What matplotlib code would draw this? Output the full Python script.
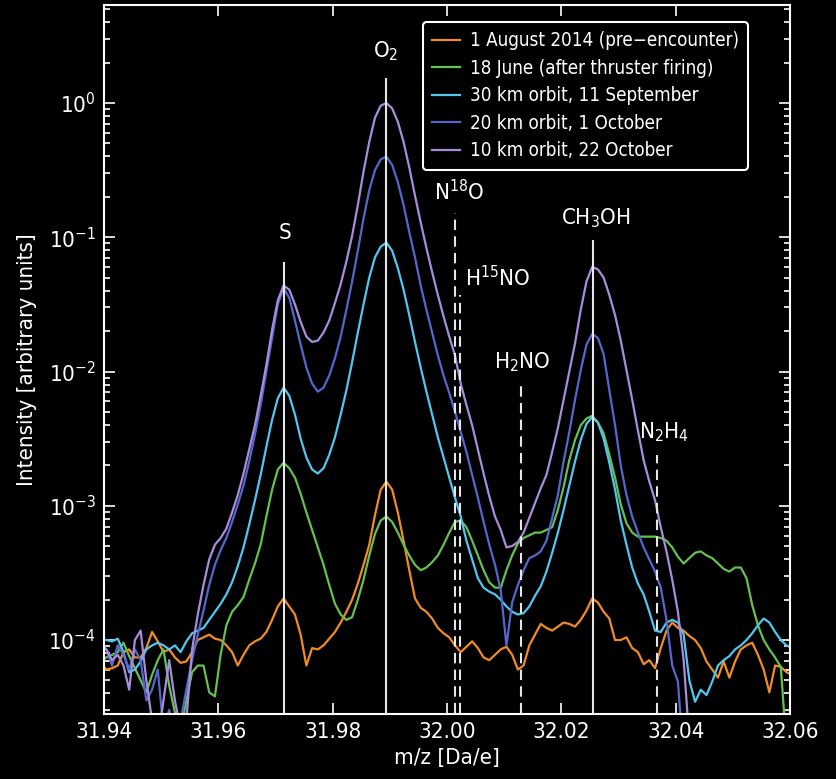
import numpy as np
import matplotlib
matplotlib.use("Agg")
import matplotlib.pyplot as plt
from matplotlib.ticker import LogLocator, FixedLocator, NullFormatter, FormatStrFormatter

plt.rcParams['font.family'] = ['DejaVu Sans']
plt.rcParams['font.stretch'] = 'condensed'
plt.rcParams['mathtext.default'] = 'regular'

# m/z sampling grid (Da/e)
mz = np.round(31.9394 + 0.001 * np.arange(122), 4)

series_labels = ["1 August 2014 (pre\u2212encounter)",
                 "18 June (after thruster firing)",
                 "30 km orbit, 11 September",
                 "20 km orbit, 1 October",
                 "10 km orbit, 22 October"]
series_colors = ["#f08c28", "#66c050", "#52c6f0", "#5468cc", "#a98cdc"]

# log10 of intensity (arbitrary units)
aug_log = [-4.17, -4.22, -4.21, -4.19, -4.09, -4.07, -4.13, -4.13, -4.06, -3.94,
           -4.01, -4.09, -4.07, -4.13, -4.17, -4.16, -4.09, -4.00, -3.98, -3.96,
           -3.99, -4.00, -4.04, -4.09, -4.19, -4.11, -4.04, -4.01, -3.99, -3.94,
           -3.85, -3.75, -3.69, -3.75, -3.81, -3.96, -4.19, -4.06, -4.07, -4.04,
           -3.99, -3.94, -3.87, -3.79, -3.70, -3.58, -3.44, -3.29, -3.07, -2.88,
           -2.82, -2.88, -3.05, -3.26, -3.48, -3.69, -3.76, -3.79, -3.84, -3.91,
           -3.95, -3.98, -4.04, -4.09, -4.05, -4.01, -4.06, -4.13, -4.15, -4.11,
           -4.07, -4.05, -4.11, -4.22, -4.19, -4.04, -3.96, -3.88, -3.91, -3.93,
           -3.90, -3.87, -3.88, -3.90, -3.85, -3.78, -3.69, -3.72, -3.79, -3.84,
           -4.00, -4.00, -3.98, -4.06, -4.09, -4.18, -4.15, -4.21, -4.06, -3.93,
           -3.87, -3.91, -3.93, -3.97, -4.00, -4.06, -4.16, -4.22, -4.28, -4.16,
           -4.28, -4.16, -4.07, -4.04, -4.02, -4.11, -4.22, -4.39, -4.19, -4.20,
           -4.24, -4.26]

june_log = [-4.15, -4.13, -4.11, -4.09, -4.02, -4.12, -4.21, -4.30, -4.39, -4.26,
            -4.15, -4.07, -4.34, -4.54, -4.67, -4.45, -4.24, -4.19, -4.19, -4.39,
            -4.42, -4.11, -3.89, -3.79, -3.74, -3.68, -3.55, -3.43, -3.29, -3.08,
            -2.88, -2.73, -2.68, -2.72, -2.79, -2.91, -3.05, -3.18, -3.31, -3.44,
            -3.59, -3.73, -3.81, -3.85, -3.83, -3.70, -3.55, -3.37, -3.21, -3.11,
            -3.08, -3.12, -3.20, -3.29, -3.37, -3.44, -3.48, -3.46, -3.42, -3.37,
            -3.29, -3.20, -3.12, -3.11, -3.16, -3.26, -3.37, -3.48, -3.57, -3.61,
            -3.61, -3.48, -3.37, -3.28, -3.24, -3.22, -3.20, -3.20, -3.18, -3.16,
            -3.03, -2.86, -2.66, -2.51, -2.40, -2.35, -2.33, -2.38, -2.46, -2.62,
            -2.79, -2.99, -3.13, -3.20, -3.23, -3.23, -3.23, -3.23, -3.24, -3.26,
            -3.31, -3.38, -3.43, -3.39, -3.35, -3.34, -3.37, -3.39, -3.43, -3.47,
            -3.49, -3.46, -3.46, -3.54, -3.74, -3.89, -4.00, -4.07, -4.13, -4.20,
            -4.80, -5.00]

sep_log = [-3.99, -4.00, -4.01, -3.99, -4.09, -4.24, -4.22, -4.16, -4.07, -4.04,
           -4.02, -4.04, -4.07, -4.04, -4.09, -4.01, -3.95, -3.93, -3.91, -3.85,
           -3.79, -3.73, -3.66, -3.57, -3.45, -3.31, -3.14, -2.96, -2.77, -2.56,
           -2.36, -2.20, -2.12, -2.18, -2.32, -2.50, -2.64, -2.73, -2.76, -2.72,
           -2.62, -2.49, -2.32, -2.14, -1.93, -1.71, -1.50, -1.30, -1.15, -1.07,
           -1.04, -1.10, -1.23, -1.39, -1.58, -1.78, -1.97, -2.15, -2.32, -2.49,
           -2.64, -2.79, -2.94, -3.08, -3.26, -3.40, -3.54, -3.61, -3.64, -3.66,
           -3.70, -3.75, -3.79, -3.81, -3.80, -3.75, -3.67, -3.60, -3.49, -3.35,
           -3.20, -3.03, -2.85, -2.67, -2.51, -2.39, -2.34, -2.38, -2.50, -2.68,
           -2.88, -3.11, -3.29, -3.46, -3.58, -3.66, -3.79, -3.93, -3.94, -3.87,
           -3.85, -3.87, -3.96, -4.30, -4.46, -4.37, -4.41, -4.31, -4.19, -4.15,
           -4.12, -4.07, -4.04, -4.00, -3.95, -3.89, -3.84, -3.87, -3.94, -4.00,
           -4.04, -4.06]

oct1_log = [-4.00, -4.07, -4.19, -4.04, -4.11, -4.22, -4.07, -4.15, -4.45, -4.37,
            -4.22, -4.67, -4.52, -4.75, -4.60, -4.37, -4.15, -3.96, -3.78, -3.59,
            -3.44, -3.33, -3.24, -3.12, -2.99, -2.85, -2.67, -2.47, -2.25, -2.00,
            -1.75, -1.50, -1.38, -1.45, -1.62, -1.80, -1.97, -2.09, -2.15, -2.12,
            -2.03, -1.90, -1.74, -1.54, -1.33, -1.10, -0.86, -0.65, -0.50, -0.42,
            -0.40, -0.46, -0.59, -0.76, -0.96, -1.15, -1.36, -1.54, -1.71, -1.88,
            -2.03, -2.16, -2.30, -2.45, -2.60, -2.77, -2.94, -3.12, -3.29, -3.44,
            -3.63, -4.04, -3.72, -3.59, -3.48, -3.39, -3.37, -3.34, -3.26, -3.09,
            -2.92, -2.67, -2.45, -2.21, -1.99, -1.80, -1.72, -1.75, -1.87, -2.14,
            -2.40, -2.70, -2.92, -3.08, -3.20, -3.31, -3.40, -3.49, -3.61, -3.85,
            -4.19, -4.31, -4.89] + [np.nan] * 19

oct22_log = [-4.04, -4.07, -4.15, -4.11, -4.19, -4.37, -4.00, -3.93, -4.30, -4.60,
             -4.75, -4.45, -4.15, -4.45, -4.67, -4.60, -4.07, -3.81, -3.59, -3.40,
             -3.29, -3.24, -3.17, -3.05, -2.92, -2.76, -2.58, -2.40, -2.18, -1.95,
             -1.69, -1.47, -1.36, -1.39, -1.50, -1.63, -1.74, -1.78, -1.77, -1.71,
             -1.62, -1.49, -1.35, -1.18, -0.99, -0.76, -0.51, -0.29, -0.11, -0.02,
             0.00, -0.04, -0.14, -0.29, -0.48, -0.69, -0.89, -1.08, -1.26, -1.43,
             -1.59, -1.74, -1.88, -2.09, -2.25, -2.40, -2.58, -2.76, -2.93, -3.08,
             -3.18, -3.31, -3.30, -3.27, -3.20, -3.09, -2.98, -2.87, -2.77, -2.60,
             -2.42, -2.21, -2.00, -1.79, -1.54, -1.33, -1.22, -1.24, -1.30, -1.43,
             -1.58, -1.77, -1.99, -2.21, -2.44, -2.66, -2.82, -2.96, -3.16, -3.34,
             -3.55, -3.79, -4.15, -4.75] + [np.nan] * 18

all_series = [aug_log, june_log, sep_log, oct1_log, oct22_log]

# Species markers
solid_names = ["S", "O$_2$", "CH$_3$OH"]
solid_mz = [31.9714, 31.9893, 32.0255]
solid_top = [0.065, 1.54, 0.095]
solid_text_mz = [31.9717, 31.9892, 32.0261]
solid_text_y = [0.108, 2.45, 0.139]

dashed_names = ["N$^{18}$O", "H$^{15}$NO", "H$_2$NO", "N$_2$H$_4$"]
dashed_mz = [32.0014, 32.0022, 32.0129, 32.0367]
dashed_top = [0.152, 0.037, 0.0079, 0.0024]
dashed_text_mz = [32.0021, 32.0089, 32.0131, 32.0380]
dashed_text_y = [0.217, 0.0497, 0.0118, 0.00355]

fig = plt.figure(figsize=(8.37, 7.79), dpi=100, facecolor='black')
ax = fig.add_axes([0.1243, 0.0834, 0.8195, 0.9102])
ax.set_facecolor('black')
ax.set_yscale('log')
ax.set_xlim(31.94, 32.06)
ax.set_ylim(2.81e-5, 5.37)

for vals, col, lab in zip(all_series, series_colors, series_labels):
    ax.plot(mz, 10 ** np.array(vals, dtype=float), color=col, lw=1.6, label=lab, zorder=2)

ax.vlines(solid_mz, 1e-6, solid_top, colors='#e6e6e6', lw=1.5, zorder=3)
ax.vlines(dashed_mz, 1e-6, dashed_top, colors='#e6e6e6', lw=1.5,
          linestyles=[(0, (5, 3))], zorder=3)

for n, x, y in zip(solid_names + dashed_names, solid_text_mz + dashed_text_mz,
                   solid_text_y + dashed_text_y):
    ax.text(x, y, n, color='white', fontsize=16, ha='center', va='center', zorder=4)

for sp in ax.spines.values():
    sp.set_color('white')
    sp.set_linewidth(1.5)

ax.xaxis.set_major_locator(FixedLocator([31.94, 31.96, 31.98, 32.00, 32.02, 32.04, 32.06]))
ax.xaxis.set_major_formatter(FormatStrFormatter('%.2f'))
ax.yaxis.set_major_locator(LogLocator(base=10, numticks=10))
ax.yaxis.set_minor_locator(LogLocator(base=10, subs=np.arange(2, 10), numticks=20))
ax.yaxis.set_minor_formatter(NullFormatter())
ax.tick_params(which='both', direction='in', top=True, right=True, colors='white',
               labelcolor='white', width=1.2)
ax.tick_params(which='major', length=8, labelsize=16, pad=6)
ax.tick_params(which='minor', length=4)
ax.tick_params(axis='y', labelsize=16)

ax.set_xlabel("m/z [Da/e]", color='white', fontsize=16, labelpad=4)
ax.set_ylabel("Intensity [arbitrary units]", color='white', fontsize=16, labelpad=8)

leg = ax.legend(loc='upper right', bbox_to_anchor=(0.939, 0.976), borderaxespad=0,
                fontsize=13.5, frameon=True, facecolor='black', edgecolor='white',
                framealpha=1, labelcolor='white', handlelength=1.5,
                handletextpad=0.5, labelspacing=0.45, borderpad=0.5, fancybox=True)
leg.get_frame().set_linewidth(1.5)

fig.savefig("out.png", dpi=100, facecolor='black')
